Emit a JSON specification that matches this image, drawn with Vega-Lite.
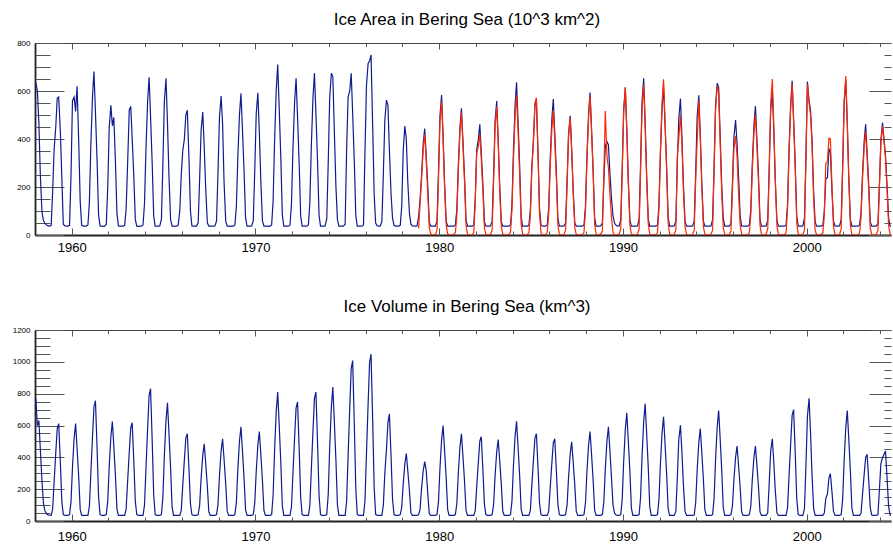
{
"$schema":"https://vega.github.io/schema/vega-lite/v6.json",
"padding":{"left":5,"top":11,"right":0,"bottom":0},
"background":"white",
"config":{"view":{"stroke":null},"font":"Liberation Sans",
"axis":{"grid":false,"labelFont":"Liberation Sans","labelColor":"#000","tickColor":"#555","tickWidth":1,"domainColor":"#222","labelFlush":false,"labelOverlap":false},
"title":{"font":"Liberation Sans","fontSize":17,"fontWeight":"normal","color":"#000","anchor":"middle","frame":"group","baseline":"alphabetic","offset":10}},
"datasets":{
"ice":[
{"t":1958.04,"a":636,"v":773},{"t":1958.13,"a":600,"v":600},{"t":1958.21,"a":470,"v":631},{"t":1958.29,"a":250,"v":450},{"t":1958.38,"a":95,"v":250},{"t":1958.46,"a":60,"v":110},{"t":1958.54,"a":48,"v":65},{"t":1958.63,"a":42,"v":45},{"t":1958.71,"a":38,"v":38},{"t":1958.79,"a":37,"v":36},{"t":1958.88,"a":40,"v":35},{"t":1958.96,"a":180,"v":73},
{"t":1959.04,"a":355,"v":245},{"t":1959.13,"a":450,"v":428},{"t":1959.21,"a":570,"v":581},{"t":1959.29,"a":575,"v":612},{"t":1959.38,"a":430,"v":367},{"t":1959.46,"a":240,"v":122},{"t":1959.54,"a":45,"v":40},{"t":1959.63,"a":38,"v":35},{"t":1959.71,"a":37,"v":35},{"t":1959.79,"a":37,"v":35},{"t":1959.88,"a":40,"v":40},{"t":1959.96,"a":250,"v":122},
{"t":1960.04,"a":560,"v":337},{"t":1960.13,"a":575,"v":520},{"t":1960.21,"a":515,"v":612},{"t":1960.29,"a":620,"v":459},{"t":1960.38,"a":390,"v":275},{"t":1960.46,"a":140,"v":73},{"t":1960.54,"a":40,"v":35},{"t":1960.63,"a":37,"v":35},{"t":1960.71,"a":37,"v":35},{"t":1960.79,"a":37,"v":35},{"t":1960.88,"a":42,"v":35},{"t":1960.96,"a":136,"v":91},
{"t":1961.04,"a":375,"v":302},{"t":1961.13,"a":579,"v":529},{"t":1961.21,"a":681,"v":718},{"t":1961.29,"a":511,"v":756},{"t":1961.38,"a":306,"v":454},{"t":1961.46,"a":82,"v":151},{"t":1961.54,"a":38,"v":40},{"t":1961.63,"a":37,"v":35},{"t":1961.71,"a":36,"v":35},{"t":1961.79,"a":37,"v":35},{"t":1961.88,"a":45,"v":40},{"t":1961.96,"a":200,"v":125},
{"t":1962.04,"a":450,"v":344},{"t":1962.13,"a":540,"v":531},{"t":1962.21,"a":455,"v":625},{"t":1962.29,"a":490,"v":469},{"t":1962.38,"a":300,"v":281},{"t":1962.46,"a":90,"v":75},{"t":1962.54,"a":38,"v":35},{"t":1962.63,"a":37,"v":35},{"t":1962.71,"a":37,"v":35},{"t":1962.79,"a":37,"v":35},{"t":1962.88,"a":40,"v":35},{"t":1962.96,"a":107,"v":74},
{"t":1963.04,"a":295,"v":247},{"t":1963.13,"a":521,"v":432},{"t":1963.21,"a":536,"v":586},{"t":1963.29,"a":402,"v":617},{"t":1963.38,"a":241,"v":370},{"t":1963.46,"a":64,"v":123},{"t":1963.54,"a":37,"v":40},{"t":1963.63,"a":36,"v":35},{"t":1963.71,"a":37,"v":35},{"t":1963.79,"a":37,"v":35},{"t":1963.88,"a":42,"v":35},{"t":1963.96,"a":131,"v":100},
{"t":1964.04,"a":361,"v":332},{"t":1964.13,"a":558,"v":582},{"t":1964.21,"a":657,"v":789},{"t":1964.29,"a":493,"v":831},{"t":1964.38,"a":296,"v":499},{"t":1964.46,"a":79,"v":166},{"t":1964.54,"a":37,"v":40},{"t":1964.63,"a":37,"v":35},{"t":1964.71,"a":37,"v":35},{"t":1964.79,"a":38,"v":35},{"t":1964.88,"a":65,"v":40},{"t":1964.96,"a":294,"v":148},
{"t":1965.04,"a":555,"v":408},{"t":1965.13,"a":653,"v":631},{"t":1965.21,"a":470,"v":742},{"t":1965.29,"a":248,"v":557},{"t":1965.38,"a":65,"v":334},{"t":1965.46,"a":37,"v":89},{"t":1965.54,"a":37,"v":35},{"t":1965.63,"a":36,"v":35},{"t":1965.71,"a":37,"v":35},{"t":1965.79,"a":40,"v":35},{"t":1965.88,"a":100,"v":35},{"t":1965.96,"a":250,"v":66},
{"t":1966.04,"a":350,"v":219},{"t":1966.13,"a":400,"v":384},{"t":1966.21,"a":500,"v":521},{"t":1966.29,"a":520,"v":548},{"t":1966.38,"a":320,"v":329},{"t":1966.46,"a":100,"v":110},{"t":1966.54,"a":38,"v":40},{"t":1966.63,"a":37,"v":35},{"t":1966.71,"a":37,"v":35},{"t":1966.79,"a":37,"v":35},{"t":1966.88,"a":51,"v":40},{"t":1966.96,"a":230,"v":97},
{"t":1967.04,"a":435,"v":267},{"t":1967.13,"a":512,"v":412},{"t":1967.21,"a":369,"v":485},{"t":1967.29,"a":195,"v":364},{"t":1967.38,"a":51,"v":218},{"t":1967.46,"a":37,"v":58},{"t":1967.54,"a":37,"v":35},{"t":1967.63,"a":37,"v":35},{"t":1967.71,"a":37,"v":35},{"t":1967.79,"a":38,"v":35},{"t":1967.88,"a":58,"v":40},{"t":1967.96,"a":261,"v":103},
{"t":1968.04,"a":492,"v":284},{"t":1968.13,"a":579,"v":439},{"t":1968.21,"a":463,"v":517},{"t":1968.29,"a":220,"v":388},{"t":1968.38,"a":58,"v":233},{"t":1968.46,"a":37,"v":62},{"t":1968.54,"a":37,"v":35},{"t":1968.63,"a":36,"v":35},{"t":1968.71,"a":37,"v":35},{"t":1968.79,"a":37,"v":35},{"t":1968.88,"a":42,"v":40},{"t":1968.96,"a":118,"v":118},
{"t":1969.04,"a":325,"v":326},{"t":1969.13,"a":502,"v":503},{"t":1969.21,"a":590,"v":592},{"t":1969.29,"a":443,"v":444},{"t":1969.38,"a":266,"v":266},{"t":1969.46,"a":71,"v":71},{"t":1969.54,"a":37,"v":35},{"t":1969.63,"a":37,"v":35},{"t":1969.71,"a":37,"v":35},{"t":1969.79,"a":38,"v":35},{"t":1969.88,"a":59,"v":40},{"t":1969.96,"a":267,"v":112},
{"t":1970.04,"a":504,"v":309},{"t":1970.13,"a":593,"v":478},{"t":1970.21,"a":427,"v":562},{"t":1970.29,"a":225,"v":422},{"t":1970.38,"a":59,"v":253},{"t":1970.46,"a":37,"v":67},{"t":1970.54,"a":37,"v":35},{"t":1970.63,"a":37,"v":35},{"t":1970.71,"a":36,"v":35},{"t":1970.79,"a":37,"v":35},{"t":1970.88,"a":42,"v":40},{"t":1970.96,"a":142,"v":162},
{"t":1971.04,"a":391,"v":446},{"t":1971.13,"a":604,"v":689},{"t":1971.21,"a":710,"v":810},{"t":1971.29,"a":533,"v":608},{"t":1971.38,"a":320,"v":365},{"t":1971.46,"a":85,"v":97},{"t":1971.54,"a":37,"v":35},{"t":1971.63,"a":37,"v":35},{"t":1971.71,"a":37,"v":35},{"t":1971.79,"a":37,"v":35},{"t":1971.88,"a":42,"v":35},{"t":1971.96,"a":131,"v":90},
{"t":1972.04,"a":359,"v":299},{"t":1972.13,"a":555,"v":524},{"t":1972.21,"a":653,"v":711},{"t":1972.29,"a":490,"v":748},{"t":1972.38,"a":294,"v":449},{"t":1972.46,"a":78,"v":150},{"t":1972.54,"a":37,"v":40},{"t":1972.63,"a":37,"v":35},{"t":1972.71,"a":37,"v":35},{"t":1972.79,"a":37,"v":35},{"t":1972.88,"a":42,"v":35},{"t":1972.96,"a":135,"v":97},
{"t":1973.04,"a":371,"v":324},{"t":1973.13,"a":573,"v":567},{"t":1973.21,"a":674,"v":770},{"t":1973.29,"a":506,"v":810},{"t":1973.38,"a":303,"v":486},{"t":1973.46,"a":81,"v":162},{"t":1973.54,"a":37,"v":40},{"t":1973.63,"a":37,"v":35},{"t":1973.71,"a":37,"v":35},{"t":1973.79,"a":38,"v":35},{"t":1973.88,"a":67,"v":40},{"t":1973.96,"a":303,"v":168},
{"t":1974.04,"a":573,"v":463},{"t":1974.13,"a":674,"v":716},{"t":1974.21,"a":660,"v":842},{"t":1974.29,"a":440,"v":632},{"t":1974.38,"a":200,"v":379},{"t":1974.46,"a":65,"v":101},{"t":1974.54,"a":37,"v":35},{"t":1974.63,"a":37,"v":35},{"t":1974.71,"a":37,"v":35},{"t":1974.79,"a":37,"v":35},{"t":1974.88,"a":45,"v":35},{"t":1974.96,"a":350,"v":121},
{"t":1975.04,"a":575,"v":403},{"t":1975.13,"a":600,"v":706},{"t":1975.21,"a":674,"v":958},{"t":1975.29,"a":506,"v":1008},{"t":1975.38,"a":303,"v":605},{"t":1975.46,"a":81,"v":202},{"t":1975.54,"a":37,"v":42},{"t":1975.63,"a":37,"v":35},{"t":1975.71,"a":37,"v":35},{"t":1975.79,"a":37,"v":35},{"t":1975.88,"a":42,"v":35},{"t":1975.96,"a":350,"v":126},
{"t":1976.04,"a":620,"v":419},{"t":1976.13,"a":715,"v":734},{"t":1976.21,"a":725,"v":996},{"t":1976.29,"a":750,"v":1048},{"t":1976.38,"a":450,"v":629},{"t":1976.46,"a":170,"v":210},{"t":1976.54,"a":50,"v":42},{"t":1976.63,"a":38,"v":35},{"t":1976.71,"a":37,"v":35},{"t":1976.79,"a":37,"v":35},{"t":1976.88,"a":56,"v":35},{"t":1976.96,"a":253,"v":100},
{"t":1977.04,"a":478,"v":300},{"t":1977.13,"a":562,"v":450},{"t":1977.21,"a":540,"v":620},{"t":1977.29,"a":350,"v":673},{"t":1977.38,"a":170,"v":404},{"t":1977.46,"a":70,"v":135},{"t":1977.54,"a":40,"v":40},{"t":1977.63,"a":37,"v":35},{"t":1977.71,"a":37,"v":35},{"t":1977.79,"a":37,"v":35},{"t":1977.88,"a":40,"v":40},{"t":1977.96,"a":120,"v":85},
{"t":1978.04,"a":350,"v":233},{"t":1978.13,"a":454,"v":360},{"t":1978.21,"a":400,"v":423},{"t":1978.29,"a":220,"v":317},{"t":1978.38,"a":90,"v":190},{"t":1978.46,"a":45,"v":51},{"t":1978.54,"a":38,"v":35},{"t":1978.63,"a":37,"v":35},{"t":1978.71,"a":37,"v":35},{"t":1978.79,"a":38,"v":35},{"t":1978.88,"a":76,"v":40},{"t":1978.96,"a":150,"v":75},
{"t":1979.04,"a":250,"v":205},{"t":1979.13,"a":380,"v":317},{"t":1979.21,"a":444,"v":373},{"t":1979.29,"a":333,"v":320},{"t":1979.38,"a":200,"v":170},{"t":1979.46,"a":53,"v":45},{"t":1979.54,"a":37,"v":35},{"t":1979.63,"a":37,"v":35},{"t":1979.71,"a":37,"v":35},{"t":1979.79,"a":37,"v":35},{"t":1979.88,"a":58,"v":40},{"t":1979.96,"a":262,"v":120},
{"t":1980.04,"a":496,"v":330},{"t":1980.13,"a":583,"v":510},{"t":1980.21,"a":420,"v":600},{"t":1980.29,"a":222,"v":450},{"t":1980.38,"a":58,"v":270},{"t":1980.46,"a":37,"v":72},{"t":1980.54,"a":37,"v":35},{"t":1980.63,"a":37,"v":35},{"t":1980.71,"a":37,"v":35},{"t":1980.79,"a":37,"v":35},{"t":1980.88,"a":42,"v":40},{"t":1980.96,"a":106,"v":110},
{"t":1981.04,"a":290,"v":301},{"t":1981.13,"a":449,"v":466},{"t":1981.21,"a":528,"v":548},{"t":1981.29,"a":396,"v":411},{"t":1981.38,"a":238,"v":247},{"t":1981.46,"a":63,"v":66},{"t":1981.54,"a":37,"v":35},{"t":1981.63,"a":37,"v":35},{"t":1981.71,"a":37,"v":35},{"t":1981.79,"a":37,"v":35},{"t":1981.88,"a":42,"v":35},{"t":1981.96,"a":150,"v":63},
{"t":1982.04,"a":354,"v":212},{"t":1982.13,"a":400,"v":370},{"t":1982.21,"a":461,"v":503},{"t":1982.29,"a":346,"v":529},{"t":1982.38,"a":207,"v":317},{"t":1982.46,"a":55,"v":106},{"t":1982.54,"a":37,"v":40},{"t":1982.63,"a":37,"v":35},{"t":1982.71,"a":37,"v":35},{"t":1982.79,"a":38,"v":35},{"t":1982.88,"a":56,"v":40},{"t":1982.96,"a":251,"v":102},
{"t":1983.04,"a":474,"v":282},{"t":1983.13,"a":558,"v":435},{"t":1983.21,"a":402,"v":512},{"t":1983.29,"a":212,"v":384},{"t":1983.38,"a":56,"v":230},{"t":1983.46,"a":37,"v":61},{"t":1983.54,"a":37,"v":35},{"t":1983.63,"a":37,"v":35},{"t":1983.71,"a":37,"v":35},{"t":1983.79,"a":37,"v":35},{"t":1983.88,"a":42,"v":40},{"t":1983.96,"a":127,"v":125},
{"t":1984.04,"a":350,"v":345},{"t":1984.13,"a":541,"v":533},{"t":1984.21,"a":636,"v":627},{"t":1984.29,"a":477,"v":470},{"t":1984.38,"a":286,"v":282},{"t":1984.46,"a":76,"v":75},{"t":1984.54,"a":37,"v":35},{"t":1984.63,"a":37,"v":35},{"t":1984.71,"a":37,"v":35},{"t":1984.79,"a":37,"v":35},{"t":1984.88,"a":40,"v":35},{"t":1984.96,"a":100,"v":66},
{"t":1985.04,"a":280,"v":219},{"t":1985.13,"a":400,"v":384},{"t":1985.21,"a":540,"v":521},{"t":1985.29,"a":560,"v":548},{"t":1985.38,"a":336,"v":329},{"t":1985.46,"a":112,"v":110},{"t":1985.54,"a":42,"v":40},{"t":1985.63,"a":37,"v":35},{"t":1985.71,"a":37,"v":35},{"t":1985.79,"a":37,"v":35},{"t":1985.88,"a":42,"v":35},{"t":1985.96,"a":113,"v":62},
{"t":1986.04,"a":312,"v":207},{"t":1986.13,"a":482,"v":362},{"t":1986.21,"a":567,"v":491},{"t":1986.29,"a":425,"v":517},{"t":1986.38,"a":255,"v":310},{"t":1986.46,"a":68,"v":103},{"t":1986.54,"a":37,"v":40},{"t":1986.63,"a":37,"v":35},{"t":1986.71,"a":37,"v":35},{"t":1986.79,"a":38,"v":35},{"t":1986.88,"a":50,"v":40},{"t":1986.96,"a":224,"v":100},
{"t":1987.04,"a":422,"v":274},{"t":1987.13,"a":497,"v":423},{"t":1987.21,"a":358,"v":498},{"t":1987.29,"a":189,"v":374},{"t":1987.38,"a":50,"v":224},{"t":1987.46,"a":37,"v":60},{"t":1987.54,"a":37,"v":35},{"t":1987.63,"a":37,"v":35},{"t":1987.71,"a":37,"v":35},{"t":1987.79,"a":37,"v":35},{"t":1987.88,"a":42,"v":40},{"t":1987.96,"a":119,"v":112},
{"t":1988.04,"a":327,"v":309},{"t":1988.13,"a":505,"v":478},{"t":1988.21,"a":594,"v":562},{"t":1988.29,"a":446,"v":422},{"t":1988.38,"a":267,"v":253},{"t":1988.46,"a":71,"v":67},{"t":1988.54,"a":37,"v":35},{"t":1988.63,"a":37,"v":35},{"t":1988.71,"a":37,"v":35},{"t":1988.79,"a":38,"v":35},{"t":1988.88,"a":50,"v":40},{"t":1988.96,"a":220,"v":118},
{"t":1989.04,"a":370,"v":326},{"t":1989.13,"a":389,"v":503},{"t":1989.21,"a":375,"v":592},{"t":1989.29,"a":260,"v":444},{"t":1989.38,"a":150,"v":266},{"t":1989.46,"a":80,"v":100},{"t":1989.54,"a":50,"v":50},{"t":1989.63,"a":40,"v":38},{"t":1989.71,"a":37,"v":35},{"t":1989.79,"a":38,"v":35},{"t":1989.88,"a":62,"v":40},{"t":1989.96,"a":277,"v":136},
{"t":1990.04,"a":523,"v":373},{"t":1990.13,"a":615,"v":577},{"t":1990.21,"a":443,"v":679},{"t":1990.29,"a":234,"v":509},{"t":1990.38,"a":62,"v":306},{"t":1990.46,"a":37,"v":81},{"t":1990.54,"a":37,"v":35},{"t":1990.63,"a":37,"v":35},{"t":1990.71,"a":37,"v":35},{"t":1990.79,"a":38,"v":35},{"t":1990.88,"a":65,"v":40},{"t":1990.96,"a":294,"v":147},
{"t":1991.04,"a":555,"v":405},{"t":1991.13,"a":653,"v":626},{"t":1991.21,"a":470,"v":737},{"t":1991.29,"a":248,"v":553},{"t":1991.38,"a":65,"v":332},{"t":1991.46,"a":37,"v":88},{"t":1991.54,"a":37,"v":35},{"t":1991.63,"a":37,"v":35},{"t":1991.71,"a":37,"v":35},{"t":1991.79,"a":37,"v":35},{"t":1991.88,"a":42,"v":40},{"t":1991.96,"a":124,"v":131},
{"t":1992.04,"a":341,"v":360},{"t":1992.13,"a":527,"v":556},{"t":1992.21,"a":620,"v":654},{"t":1992.29,"a":465,"v":491},{"t":1992.38,"a":279,"v":294},{"t":1992.46,"a":74,"v":78},{"t":1992.54,"a":37,"v":35},{"t":1992.63,"a":37,"v":35},{"t":1992.71,"a":37,"v":35},{"t":1992.79,"a":38,"v":35},{"t":1992.88,"a":57,"v":60},{"t":1992.96,"a":300,"v":271},
{"t":1993.04,"a":484,"v":512},{"t":1993.13,"a":569,"v":602},{"t":1993.21,"a":410,"v":433},{"t":1993.29,"a":216,"v":229},{"t":1993.38,"a":57,"v":60},{"t":1993.46,"a":37,"v":35},{"t":1993.54,"a":37,"v":35},{"t":1993.63,"a":37,"v":35},{"t":1993.71,"a":37,"v":35},{"t":1993.79,"a":38,"v":35},{"t":1993.88,"a":58,"v":38},{"t":1993.96,"a":262,"v":116},
{"t":1994.04,"a":495,"v":320},{"t":1994.13,"a":582,"v":494},{"t":1994.21,"a":419,"v":581},{"t":1994.29,"a":221,"v":436},{"t":1994.38,"a":58,"v":261},{"t":1994.46,"a":37,"v":70},{"t":1994.54,"a":37,"v":35},{"t":1994.63,"a":37,"v":35},{"t":1994.71,"a":37,"v":35},{"t":1994.79,"a":38,"v":35},{"t":1994.88,"a":63,"v":40},{"t":1994.96,"a":284,"v":139},
{"t":1995.04,"a":537,"v":382},{"t":1995.13,"a":632,"v":590},{"t":1995.21,"a":615,"v":694},{"t":1995.29,"a":420,"v":521},{"t":1995.38,"a":200,"v":312},{"t":1995.46,"a":70,"v":83},{"t":1995.54,"a":37,"v":35},{"t":1995.63,"a":37,"v":35},{"t":1995.71,"a":37,"v":35},{"t":1995.79,"a":37,"v":35},{"t":1995.88,"a":48,"v":40},{"t":1995.96,"a":216,"v":94},
{"t":1996.04,"a":407,"v":259},{"t":1996.13,"a":479,"v":400},{"t":1996.21,"a":382,"v":471},{"t":1996.29,"a":250,"v":353},{"t":1996.38,"a":80,"v":212},{"t":1996.46,"a":38,"v":57},{"t":1996.54,"a":37,"v":35},{"t":1996.63,"a":37,"v":35},{"t":1996.71,"a":37,"v":35},{"t":1996.79,"a":37,"v":35},{"t":1996.88,"a":42,"v":40},{"t":1996.96,"a":107,"v":94},
{"t":1997.04,"a":295,"v":259},{"t":1997.13,"a":456,"v":400},{"t":1997.21,"a":537,"v":471},{"t":1997.29,"a":403,"v":353},{"t":1997.38,"a":242,"v":212},{"t":1997.46,"a":64,"v":57},{"t":1997.54,"a":37,"v":35},{"t":1997.63,"a":37,"v":35},{"t":1997.71,"a":37,"v":35},{"t":1997.79,"a":38,"v":35},{"t":1997.88,"a":61,"v":52},{"t":1997.96,"a":272,"v":233},
{"t":1998.04,"a":514,"v":439},{"t":1998.13,"a":605,"v":517},{"t":1998.21,"a":436,"v":372},{"t":1998.29,"a":230,"v":196},{"t":1998.38,"a":61,"v":52},{"t":1998.46,"a":37,"v":35},{"t":1998.54,"a":37,"v":35},{"t":1998.63,"a":37,"v":35},{"t":1998.71,"a":37,"v":35},{"t":1998.79,"a":37,"v":35},{"t":1998.88,"a":42,"v":35},{"t":1998.96,"a":129,"v":84},
{"t":1999.04,"a":354,"v":280},{"t":1999.13,"a":547,"v":490},{"t":1999.21,"a":643,"v":665},{"t":1999.29,"a":482,"v":700},{"t":1999.38,"a":289,"v":420},{"t":1999.46,"a":77,"v":140},{"t":1999.54,"a":37,"v":40},{"t":1999.63,"a":37,"v":35},{"t":1999.71,"a":37,"v":35},{"t":1999.79,"a":38,"v":35},{"t":1999.88,"a":70,"v":77},{"t":1999.96,"a":330,"v":347},
{"t":2000.04,"a":639,"v":655},{"t":2000.13,"a":560,"v":771},{"t":2000.21,"a":521,"v":555},{"t":2000.29,"a":400,"v":293},{"t":2000.38,"a":180,"v":77},{"t":2000.46,"a":55,"v":35},{"t":2000.54,"a":37,"v":35},{"t":2000.63,"a":37,"v":35},{"t":2000.71,"a":37,"v":35},{"t":2000.79,"a":37,"v":35},{"t":2000.88,"a":40,"v":35},{"t":2000.96,"a":100,"v":50},
{"t":2001.04,"a":233,"v":140},{"t":2001.13,"a":240,"v":170},{"t":2001.21,"a":361,"v":270},{"t":2001.29,"a":340,"v":298},{"t":2001.38,"a":180,"v":180},{"t":2001.46,"a":60,"v":60},{"t":2001.54,"a":38,"v":36},{"t":2001.63,"a":37,"v":35},{"t":2001.71,"a":37,"v":35},{"t":2001.79,"a":38,"v":35},{"t":2001.88,"a":65,"v":40},{"t":2001.96,"a":291,"v":139},
{"t":2002.04,"a":549,"v":382},{"t":2002.13,"a":646,"v":590},{"t":2002.21,"a":465,"v":694},{"t":2002.29,"a":245,"v":521},{"t":2002.38,"a":65,"v":312},{"t":2002.46,"a":37,"v":83},{"t":2002.54,"a":37,"v":35},{"t":2002.63,"a":37,"v":35},{"t":2002.71,"a":37,"v":35},{"t":2002.79,"a":37,"v":35},{"t":2002.88,"a":42,"v":35},{"t":2002.96,"a":92,"v":50},
{"t":2003.04,"a":254,"v":168},{"t":2003.13,"a":392,"v":293},{"t":2003.21,"a":461,"v":398},{"t":2003.29,"a":346,"v":419},{"t":2003.38,"a":207,"v":251},{"t":2003.46,"a":55,"v":84},{"t":2003.54,"a":37,"v":38},{"t":2003.63,"a":37,"v":35},{"t":2003.71,"a":37,"v":35},{"t":2003.79,"a":38,"v":35},{"t":2003.88,"a":47,"v":40},{"t":2003.96,"a":211,"v":200},
{"t":2004.04,"a":398,"v":360},{"t":2004.13,"a":468,"v":398},{"t":2004.21,"a":400,"v":420},{"t":2004.29,"a":330,"v":440},{"t":2004.38,"a":200,"v":260},{"t":2004.46,"a":70,"v":90},{"t":2004.54,"a":37,"v":37},{"t":2004.63,"a":37,"v":35},{"t":2004.71,"a":37,"v":35},{"t":2004.79,"a":37,"v":35},{"t":2004.88,"a":37,"v":35},{"t":2004.96,"a":37,"v":35}
],
"red":[
{"t":1978.88,"r":28},{"t":1978.96,"r":133},
{"t":1979.04,"r":230},{"t":1979.13,"r":360},{"t":1979.21,"r":420},{"t":1979.29,"r":315},{"t":1979.38,"r":170},{"t":1979.46,"r":30},{"t":1979.54,"r":5},{"t":1979.63,"r":1},{"t":1979.71,"r":0},{"t":1979.79,"r":2},{"t":1979.88,"r":20},{"t":1979.96,"r":230},
{"t":1980.04,"r":470},{"t":1980.13,"r":556},{"t":1980.21,"r":400},{"t":1980.29,"r":200},{"t":1980.38,"r":40},{"t":1980.46,"r":5},{"t":1980.54,"r":1},{"t":1980.63,"r":0},{"t":1980.71,"r":0},{"t":1980.79,"r":3},{"t":1980.88,"r":10},{"t":1980.96,"r":80},
{"t":1981.04,"r":270},{"t":1981.13,"r":430},{"t":1981.21,"r":510},{"t":1981.29,"r":380},{"t":1981.38,"r":220},{"t":1981.46,"r":40},{"t":1981.54,"r":4},{"t":1981.63,"r":0},{"t":1981.71,"r":0},{"t":1981.79,"r":1},{"t":1981.88,"r":10},{"t":1981.96,"r":130},
{"t":1982.04,"r":340},{"t":1982.13,"r":370},{"t":1982.21,"r":421},{"t":1982.29,"r":316},{"t":1982.38,"r":180},{"t":1982.46,"r":30},{"t":1982.54,"r":3},{"t":1982.63,"r":0},{"t":1982.71,"r":0},{"t":1982.79,"r":2},{"t":1982.88,"r":20},{"t":1982.96,"r":220},
{"t":1983.04,"r":450},{"t":1983.13,"r":535},{"t":1983.21,"r":385},{"t":1983.29,"r":190},{"t":1983.38,"r":35},{"t":1983.46,"r":4},{"t":1983.54,"r":0},{"t":1983.63,"r":0},{"t":1983.71,"r":0},{"t":1983.79,"r":3},{"t":1983.88,"r":10},{"t":1983.96,"r":105},
{"t":1984.04,"r":310},{"t":1984.13,"r":495},{"t":1984.21,"r":583},{"t":1984.29,"r":437},{"t":1984.38,"r":250},{"t":1984.46,"r":45},{"t":1984.54,"r":4},{"t":1984.63,"r":0},{"t":1984.71,"r":0},{"t":1984.79,"r":2},{"t":1984.88,"r":8},{"t":1984.96,"r":80},
{"t":1985.04,"r":271},{"t":1985.13,"r":390},{"t":1985.21,"r":550},{"t":1985.29,"r":572},{"t":1985.38,"r":330},{"t":1985.46,"r":90},{"t":1985.54,"r":8},{"t":1985.63,"r":0},{"t":1985.71,"r":0},{"t":1985.79,"r":2},{"t":1985.88,"r":10},{"t":1985.96,"r":90},
{"t":1986.04,"r":285},{"t":1986.13,"r":440},{"t":1986.21,"r":521},{"t":1986.29,"r":390},{"t":1986.38,"r":230},{"t":1986.46,"r":40},{"t":1986.54,"r":3},{"t":1986.63,"r":0},{"t":1986.71,"r":0},{"t":1986.79,"r":3},{"t":1986.88,"r":20},{"t":1986.96,"r":210},
{"t":1987.04,"r":410},{"t":1987.13,"r":489},{"t":1987.21,"r":350},{"t":1987.29,"r":180},{"t":1987.38,"r":30},{"t":1987.46,"r":3},{"t":1987.54,"r":0},{"t":1987.63,"r":0},{"t":1987.71,"r":0},{"t":1987.79,"r":2},{"t":1987.88,"r":10},{"t":1987.96,"r":100},
{"t":1988.04,"r":310},{"t":1988.13,"r":490},{"t":1988.21,"r":581},{"t":1988.29,"r":435},{"t":1988.38,"r":255},{"t":1988.46,"r":45},{"t":1988.54,"r":4},{"t":1988.63,"r":0},{"t":1988.71,"r":0},{"t":1988.79,"r":5},{"t":1988.88,"r":15},{"t":1988.96,"r":250},
{"t":1989.04,"r":517},{"t":1989.13,"r":330},{"t":1989.21,"r":280},{"t":1989.29,"r":170},{"t":1989.38,"r":70},{"t":1989.46,"r":10},{"t":1989.54,"r":1},{"t":1989.63,"r":0},{"t":1989.71,"r":0},{"t":1989.79,"r":3},{"t":1989.88,"r":25},{"t":1989.96,"r":260},
{"t":1990.04,"r":510},{"t":1990.13,"r":615},{"t":1990.21,"r":430},{"t":1990.29,"r":220},{"t":1990.38,"r":40},{"t":1990.46,"r":4},{"t":1990.54,"r":0},{"t":1990.63,"r":0},{"t":1990.71,"r":0},{"t":1990.79,"r":3},{"t":1990.88,"r":25},{"t":1990.96,"r":270},
{"t":1991.04,"r":530},{"t":1991.13,"r":626},{"t":1991.21,"r":450},{"t":1991.29,"r":235},{"t":1991.38,"r":45},{"t":1991.46,"r":4},{"t":1991.54,"r":0},{"t":1991.63,"r":0},{"t":1991.71,"r":0},{"t":1991.79,"r":2},{"t":1991.88,"r":10},{"t":1991.96,"r":110},
{"t":1992.04,"r":350},{"t":1992.13,"r":550},{"t":1992.21,"r":649},{"t":1992.29,"r":480},{"t":1992.38,"r":270},{"t":1992.46,"r":50},{"t":1992.54,"r":4},{"t":1992.63,"r":0},{"t":1992.71,"r":0},{"t":1992.79,"r":3},{"t":1992.88,"r":20},{"t":1992.96,"r":330},
{"t":1993.04,"r":400},{"t":1993.13,"r":500},{"t":1993.21,"r":380},{"t":1993.29,"r":190},{"t":1993.38,"r":35},{"t":1993.46,"r":3},{"t":1993.54,"r":0},{"t":1993.63,"r":0},{"t":1993.71,"r":0},{"t":1993.79,"r":2},{"t":1993.88,"r":20},{"t":1993.96,"r":230},
{"t":1994.04,"r":396},{"t":1994.13,"r":560},{"t":1994.21,"r":403},{"t":1994.29,"r":205},{"t":1994.38,"r":35},{"t":1994.46,"r":3},{"t":1994.54,"r":0},{"t":1994.63,"r":0},{"t":1994.71,"r":0},{"t":1994.79,"r":3},{"t":1994.88,"r":20},{"t":1994.96,"r":260},
{"t":1995.04,"r":520},{"t":1995.13,"r":622},{"t":1995.21,"r":590},{"t":1995.29,"r":390},{"t":1995.38,"r":170},{"t":1995.46,"r":30},{"t":1995.54,"r":2},{"t":1995.63,"r":0},{"t":1995.71,"r":0},{"t":1995.79,"r":2},{"t":1995.88,"r":15},{"t":1995.96,"r":190},
{"t":1996.04,"r":360},{"t":1996.13,"r":412},{"t":1996.21,"r":330},{"t":1996.29,"r":180},{"t":1996.38,"r":40},{"t":1996.46,"r":3},{"t":1996.54,"r":0},{"t":1996.63,"r":0},{"t":1996.71,"r":0},{"t":1996.79,"r":2},{"t":1996.88,"r":8},{"t":1996.96,"r":85},
{"t":1997.04,"r":270},{"t":1997.13,"r":425},{"t":1997.21,"r":500},{"t":1997.29,"r":375},{"t":1997.38,"r":215},{"t":1997.46,"r":40},{"t":1997.54,"r":3},{"t":1997.63,"r":0},{"t":1997.71,"r":0},{"t":1997.79,"r":3},{"t":1997.88,"r":25},{"t":1997.96,"r":270},
{"t":1998.04,"r":540},{"t":1998.13,"r":650},{"t":1998.21,"r":460},{"t":1998.29,"r":235},{"t":1998.38,"r":40},{"t":1998.46,"r":4},{"t":1998.54,"r":0},{"t":1998.63,"r":0},{"t":1998.71,"r":0},{"t":1998.79,"r":2},{"t":1998.88,"r":10},{"t":1998.96,"r":110},
{"t":1999.04,"r":340},{"t":1999.13,"r":530},{"t":1999.21,"r":628},{"t":1999.29,"r":470},{"t":1999.38,"r":270},{"t":1999.46,"r":50},{"t":1999.54,"r":4},{"t":1999.63,"r":0},{"t":1999.71,"r":0},{"t":1999.79,"r":3},{"t":1999.88,"r":20},{"t":1999.96,"r":310},
{"t":2000.04,"r":628},{"t":2000.13,"r":550},{"t":2000.21,"r":500},{"t":2000.29,"r":380},{"t":2000.38,"r":150},{"t":2000.46,"r":20},{"t":2000.54,"r":1},{"t":2000.63,"r":0},{"t":2000.71,"r":0},{"t":2000.79,"r":3},{"t":2000.88,"r":8},{"t":2000.96,"r":80},
{"t":2001.04,"r":299},{"t":2001.13,"r":305},{"t":2001.21,"r":403},{"t":2001.29,"r":400},{"t":2001.38,"r":200},{"t":2001.46,"r":35},{"t":2001.54,"r":3},{"t":2001.63,"r":0},{"t":2001.71,"r":0},{"t":2001.79,"r":2},{"t":2001.88,"r":25},{"t":2001.96,"r":280},
{"t":2002.04,"r":560},{"t":2002.13,"r":662},{"t":2002.21,"r":470},{"t":2002.29,"r":240},{"t":2002.38,"r":40},{"t":2002.46,"r":4},{"t":2002.54,"r":0},{"t":2002.63,"r":0},{"t":2002.71,"r":0},{"t":2002.79,"r":2},{"t":2002.88,"r":8},{"t":2002.96,"r":75},
{"t":2003.04,"r":235},{"t":2003.13,"r":365},{"t":2003.21,"r":431},{"t":2003.29,"r":323},{"t":2003.38,"r":185},{"t":2003.46,"r":30},{"t":2003.54,"r":3},{"t":2003.63,"r":0},{"t":2003.71,"r":0},{"t":2003.79,"r":3},{"t":2003.88,"r":18},{"t":2003.96,"r":200},
{"t":2004.04,"r":385},{"t":2004.13,"r":455},{"t":2004.21,"r":390},{"t":2004.29,"r":320},{"t":2004.38,"r":180},{"t":2004.46,"r":40},{"t":2004.54,"r":3},{"t":2004.63,"r":0},{"t":2004.71,"r":0},{"t":2004.79,"r":0},{"t":2004.88,"r":0},{"t":2004.96,"r":0}
]},
"bounds":"flush",
"spacing":95,
"vconcat":[
{"width":856,"height":192,
 "title":{"text":"Ice Area in Bering Sea (10^3 km^2)","dx":4},
 "layer":[
  {"data":{"name":"ice"},"mark":{"type":"line","color":"#101c8e","strokeWidth":1.2,"clip":true},
   "encoding":{
    "x":{"field":"t","type":"quantitative","scale":{"domain":[1958,2004.59],"nice":false,"zero":false},
      "axis":{"orient":"bottom","title":null,"values":[1960,1970,1980,1990,2000],"format":"d","tickSize":-7,"labelPadding":13,"labelFontSize":13,"domainWidth":1.8}},
    "y":{"field":"a","type":"quantitative","scale":{"domain":[0,800],"nice":false},
      "axis":{"orient":"left","title":null,"values":[0,200,400,600,800],"format":"d","tickSize":-29,"labelPadding":34,"labelFontSize":8,"domainWidth":1.8,"minExtent":30,"maxExtent":30}}}},
  {"data":{"name":"red"},"mark":{"type":"line","color":"#ff2800","strokeWidth":1.2,"clip":true},
   "encoding":{
    "x":{"field":"t","type":"quantitative","scale":{"domain":[1958,2004.59],"nice":false,"zero":false},
      "axis":{"orient":"bottom","title":null,"values":[1960,1962,1964,1966,1968,1970,1972,1974,1976,1978,1980,1982,1984,1986,1988,1990,1992,1994,1996,1998,2000,2002,2004],"tickSize":-4,"labels":false,"domain":false}},
    "y":{"field":"r","type":"quantitative","scale":{"domain":[0,800],"nice":false},
      "axis":{"orient":"left","title":null,"values":[50,100,150,250,300,350,450,500,550,650,700,750],"tickSize":-15,"labels":false,"domain":false,"minExtent":0,"maxExtent":0}}}},
  {"data":{"name":"ice"},"mark":{"type":"line","opacity":0,"clip":true},
   "encoding":{
    "x":{"field":"t","type":"quantitative","scale":{"domain":[1958,2004.59],"nice":false,"zero":false},
      "axis":{"orient":"top","title":null,"values":[1960,1970,1980,1990,2000],"tickSize":-6,"labels":false,"domainWidth":1.2,"domainColor":"#444"}},
    "y":{"field":"a","type":"quantitative","scale":{"domain":[0,800],"nice":false},
      "axis":{"orient":"right","title":null,"values":[0,200,400,600,800],"tickSize":-22,"labels":false,"domain":false,"minExtent":0,"maxExtent":0}}}},
  {"data":{"name":"ice"},"mark":{"type":"line","opacity":0,"clip":true},
   "encoding":{
    "x":{"field":"t","type":"quantitative","scale":{"domain":[1958,2004.59],"nice":false,"zero":false},
      "axis":{"orient":"top","title":null,"values":[1960,1962,1964,1966,1968,1970,1972,1974,1976,1978,1980,1982,1984,1986,1988,1990,1992,1994,1996,1998,2000,2002,2004],"tickSize":-3.5,"labels":false,"domain":false}},
    "y":{"field":"a","type":"quantitative","scale":{"domain":[0,800],"nice":false},
      "axis":{"orient":"right","title":null,"values":[50,100,150,250,300,350,450,500,550,650,700,750],"tickSize":-7,"labels":false,"domain":false,"minExtent":0,"maxExtent":0}}}}
 ],
 "resolve":{"axis":{"x":"independent","y":"independent"}}
},
{"width":856,"height":191,
 "title":{"text":"Ice Volume in Bering Sea (km^3)","dx":4},
 "layer":[
  {"data":{"name":"ice"},"mark":{"type":"line","color":"#101c8e","strokeWidth":1.2,"clip":true},
   "encoding":{
    "x":{"field":"t","type":"quantitative","scale":{"domain":[1958,2004.59],"nice":false,"zero":false},
      "axis":{"orient":"bottom","title":null,"values":[1960,1970,1980,1990,2000],"format":"d","tickSize":-7,"labelPadding":16,"labelFontSize":13,"domainWidth":1.8}},
    "y":{"field":"v","type":"quantitative","scale":{"domain":[0,1200],"nice":false},
      "axis":{"orient":"left","title":null,"values":[0,200,400,600,800,1000,1200],"format":"d","tickSize":-29,"labelPadding":34,"labelFontSize":8,"domainWidth":1.8,"minExtent":30,"maxExtent":30}}}},
  {"data":{"name":"ice"},"mark":{"type":"line","opacity":0,"clip":true},
   "encoding":{
    "x":{"field":"t","type":"quantitative","scale":{"domain":[1958,2004.59],"nice":false,"zero":false},
      "axis":{"orient":"bottom","title":null,"values":[1960,1962,1964,1966,1968,1970,1972,1974,1976,1978,1980,1982,1984,1986,1988,1990,1992,1994,1996,1998,2000,2002,2004],"tickSize":-4,"labels":false,"domain":false}},
    "y":{"field":"v","type":"quantitative","scale":{"domain":[0,1200],"nice":false},
      "axis":{"orient":"left","title":null,"values":[50,100,150,250,300,350,450,500,550,650,700,750,850,900,950,1050,1100,1150],"tickSize":-15,"labels":false,"domain":false,"minExtent":0,"maxExtent":0}}}},
  {"data":{"name":"ice"},"mark":{"type":"line","opacity":0,"clip":true},
   "encoding":{
    "x":{"field":"t","type":"quantitative","scale":{"domain":[1958,2004.59],"nice":false,"zero":false},
      "axis":{"orient":"top","title":null,"values":[1960,1970,1980,1990,2000],"tickSize":-6,"labels":false,"domainWidth":1.2,"domainColor":"#444"}},
    "y":{"field":"v","type":"quantitative","scale":{"domain":[0,1200],"nice":false},
      "axis":{"orient":"right","title":null,"values":[0,200,400,600,800,1000,1200],"tickSize":-22,"labels":false,"domain":false,"minExtent":0,"maxExtent":0}}}},
  {"data":{"name":"ice"},"mark":{"type":"line","opacity":0,"clip":true},
   "encoding":{
    "x":{"field":"t","type":"quantitative","scale":{"domain":[1958,2004.59],"nice":false,"zero":false},
      "axis":{"orient":"top","title":null,"values":[1960,1962,1964,1966,1968,1970,1972,1974,1976,1978,1980,1982,1984,1986,1988,1990,1992,1994,1996,1998,2000,2002,2004],"tickSize":-3.5,"labels":false,"domain":false}},
    "y":{"field":"v","type":"quantitative","scale":{"domain":[0,1200],"nice":false},
      "axis":{"orient":"right","title":null,"values":[50,100,150,250,300,350,450,500,550,650,700,750,850,900,950,1050,1100,1150],"tickSize":-7,"labels":false,"domain":false,"minExtent":0,"maxExtent":0}}}}
 ],
 "resolve":{"axis":{"x":"independent","y":"independent"}}
}
]}
